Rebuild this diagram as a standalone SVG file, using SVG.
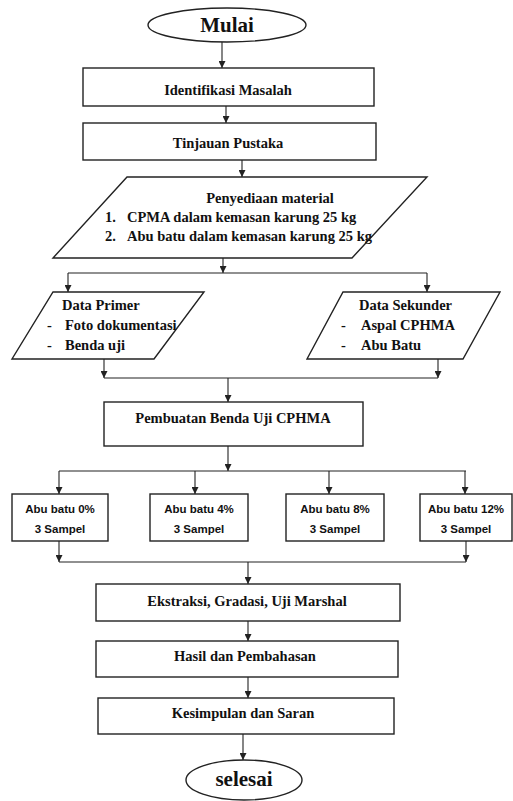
<svg xmlns="http://www.w3.org/2000/svg" width="513" height="801" viewBox="0 0 513 801">
<style>
.shape{fill:#fff;stroke:#222;stroke-width:1.4}
.t{font-family:"Liberation Serif","Times New Roman",serif;font-weight:bold;font-size:14.5px;fill:#111}
.big{font-size:21px}
.s{font-family:"Liberation Sans",Arial,sans-serif;font-weight:bold;font-size:11.5px;fill:#111}
.c{text-anchor:middle}
.ln{fill:none;stroke:#222;stroke-width:1.1}
</style>
<defs>
<marker id="ah" viewBox="0 0 10 10" refX="10" refY="5" markerWidth="7" markerHeight="7" markerUnits="userSpaceOnUse" orient="auto">
<path d="M0,0 L10,5 L0,10 z" fill="#222"/>
</marker>
</defs>
<rect width="513" height="801" fill="#fff"/>
<g id="connectors">
<path class="ln" d="M222,42 V68" marker-end="url(#ah)"/>
<path class="ln" d="M226,106 V123" marker-end="url(#ah)"/>
<path class="ln" d="M242,160 V177" marker-end="url(#ah)"/>
<path class="ln" d="M223,258 V273" marker-end="url(#ah)"/>
<path class="ln" d="M68,273 H427"/>
<path class="ln" d="M68,273 V292" marker-end="url(#ah)"/>
<path class="ln" d="M427,273 V292" marker-end="url(#ah)"/>
<path class="ln" d="M104,359 V378" marker-end="url(#ah)"/>
<path class="ln" d="M438,359 V378" marker-end="url(#ah)"/>
<path class="ln" d="M104,378 H438"/>
<path class="ln" d="M228,378 V402" marker-end="url(#ah)"/>
<path class="ln" d="M228,446 V471" marker-end="url(#ah)"/>
<path class="ln" d="M59,471 H466"/>
<path class="ln" d="M59,471 V494" marker-end="url(#ah)"/>
<path class="ln" d="M195,471 V494" marker-end="url(#ah)"/>
<path class="ln" d="M329,471 V494" marker-end="url(#ah)"/>
<path class="ln" d="M465,471 V494" marker-end="url(#ah)"/>
<path class="ln" d="M59,541 V562" marker-end="url(#ah)"/>
<path class="ln" d="M466,541 V562" marker-end="url(#ah)"/>
<path class="ln" d="M59,562 H466"/>
<path class="ln" d="M248,562 V584" marker-end="url(#ah)"/>
<path class="ln" d="M248,621 V641" marker-end="url(#ah)"/>
<path class="ln" d="M248,677 V698" marker-end="url(#ah)"/>
<path class="ln" d="M243,734 V760" marker-end="url(#ah)"/>
</g>
<g id="mulai">
<ellipse class="shape" cx="227" cy="25" rx="79" ry="17"/>
<text class="t big c" x="227" y="32">Mulai</text>
</g>
<g id="identifikasi">
<rect class="shape" x="83" y="68" width="291" height="38"/>
<text class="t c" x="228" y="95">Identifikasi Masalah</text>
</g>
<g id="tinjauan">
<rect class="shape" x="83" y="123" width="293" height="37"/>
<text class="t c" x="228" y="148">Tinjauan Pustaka</text>
</g>
<g id="penyediaan">
<polygon class="shape" points="127,177 427,177 352,258 53,258"/>
<text class="t c" x="270" y="203">Penyediaan material</text>
<text class="t" x="105" y="222">1.</text>
<text class="t" x="127" y="222">CPMA dalam kemasan karung 25 kg</text>
<text class="t" x="105" y="241">2.</text>
<text class="t" x="127" y="241">Abu batu dalam kemasan karung 25 kg</text>
</g>
<g id="data-primer">
<polygon class="shape" points="53,292 204,292 154,359 12,359"/>
<text class="t" x="62" y="310">Data Primer</text>
<text class="t" x="47" y="330">-</text>
<text class="t" x="65" y="330">Foto dokumentasi</text>
<text class="t" x="47" y="350">-</text>
<text class="t" x="65" y="350">Benda uji</text>
</g>
<g id="data-sekunder">
<polygon class="shape" points="343,292 500,292 463,359 307,359"/>
<text class="t" x="359" y="310">Data Sekunder</text>
<text class="t" x="341" y="330">-</text>
<text class="t" x="361" y="330">Aspal CPHMA</text>
<text class="t" x="341" y="350">-</text>
<text class="t" x="361" y="350">Abu Batu</text>
</g>
<g id="pembuatan">
<rect class="shape" x="104" y="402" width="259" height="44"/>
<text class="t c" x="233" y="423">Pembuatan Benda Uji CPHMA</text>
</g>
<g id="abu0">
<rect class="shape" x="12" y="494" width="96" height="47"/>
<text class="s c" x="60" y="513">Abu batu 0%</text>
<text class="s c" x="60" y="533">3 Sampel</text>
</g>
<g id="abu4">
<rect class="shape" x="150" y="494" width="98" height="47"/>
<text class="s c" x="199" y="513">Abu batu 4%</text>
<text class="s c" x="199" y="533">3 Sampel</text>
</g>
<g id="abu8">
<rect class="shape" x="286" y="494" width="98" height="47"/>
<text class="s c" x="335" y="513">Abu batu 8%</text>
<text class="s c" x="335" y="533">3 Sampel</text>
</g>
<g id="abu12">
<rect class="shape" x="420" y="494" width="92" height="47"/>
<text class="s c" x="466" y="513">Abu batu 12%</text>
<text class="s c" x="466" y="533">3 Sampel</text>
</g>
<g id="ekstraksi">
<rect class="shape" x="96" y="584" width="304" height="37"/>
<text class="t c" x="247" y="606">Ekstraksi, Gradasi, Uji Marshal</text>
</g>
<g id="hasil">
<rect class="shape" x="96" y="641" width="302" height="36"/>
<text class="t c" x="245" y="661">Hasil dan Pembahasan</text>
</g>
<g id="kesimpulan">
<rect class="shape" x="98" y="698" width="296" height="36"/>
<text class="t c" x="243" y="718">Kesimpulan dan Saran</text>
</g>
<g id="selesai">
<ellipse class="shape" cx="244" cy="780" rx="58" ry="20"/>
<text class="t big c" x="244" y="786">selesai</text>
</g>
</svg>
